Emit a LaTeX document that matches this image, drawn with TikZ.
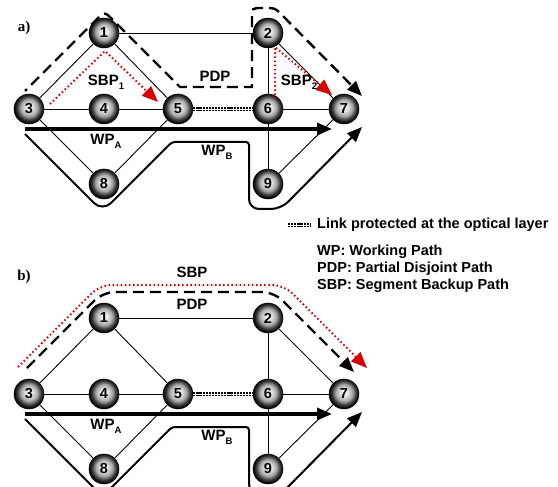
\documentclass[tikz,border=0pt]{standalone}
\usepackage{fontspec}
\setmainfont{Liberation Sans}
\newfontfamily\serifbold{Liberation Serif}
\usetikzlibrary{arrows.meta}
\definecolor{sbpred}{RGB}{215,0,0}
\pgfdeclareradialshading{netball}{\pgfpoint{0bp}{3bp}}{color(0bp)=(white); color(6bp)=(gray!20); color(14bp)=(gray!70); color(20bp)=(gray!45!black); color(25bp)=(black); color(50bp)=(black)}
\newcommand\lsub[1]{\raisebox{-4pt}{\fontsize{9.5}{9.5}\selectfont #1}}
\tikzset{
  nd/.style={circle, draw=black, line width=0.5pt, minimum size=30pt, inner sep=0pt, shading=netball, font=\fontsize{14.5}{14.5}\selectfont\bfseries},
  lnk/.style={line width=0.9pt},
  plink/.style={line width=4.8pt, dash pattern=on 2.2pt off 0.9pt},
  plinkc/.style={white, line width=0.9pt},
  wpa/.style={line width=3.2pt, -{Triangle[length=15pt,width=12pt]}},
  wpb/.style={line width=2pt, -{Triangle[length=15pt,width=12pt]}},
  pdp/.style={line width=2.4pt, dash pattern=on 11pt off 6pt, -{Triangle[length=15pt,width=12pt]}},
  sbp/.style={sbpred, line width=2pt, dash pattern=on 1.5pt off 2.6pt, -{Triangle[length=16pt,width=13pt]}},
  lbl/.style={font=\fontsize{15}{15}\selectfont\bfseries, inner sep=0pt},
  leg/.style={font=\fontsize{14.5}{15}\selectfont\bfseries, inner sep=0pt, anchor=west},
  tag/.style={font=\fontsize{15}{15}\selectfont\serifbold\bfseries, inner sep=0pt}
}
\begin{document}
\begin{tikzpicture}[x=1pt,y=-1pt]
\useasboundingbox[fill=white] (0,0) rectangle (558,487);
\foreach \p/\dy in {a/0,b/285}{
\begin{scope}[shift={(0,\dy)}]
  \node[nd] (\p1) at (104,33) {1};
  \node[nd] (\p2) at (268,33) {2};
  \node[nd] (\p3) at (29,109) {3};
  \node[nd] (\p4) at (104,109) {4};
  \node[nd] (\p5) at (178,109) {5};
  \node[nd] (\p6) at (268,109) {6};
  \node[nd] (\p7) at (344,109) {7};
  \node[nd] (\p8) at (104,184) {8};
  \node[nd] (\p9) at (268,184) {9};
  \draw[lnk] (\p1) -- (\p2);
  \draw[lnk] (\p1) -- (\p3);
  \draw[lnk] (\p1) -- (\p5);
  \draw[lnk] (\p3) -- (\p4);
  \draw[lnk] (\p4) -- (\p5);
  \draw[lnk] (\p3) -- (\p8);
  \draw[lnk] (\p8) -- (\p5);
  \draw[lnk] (\p2) -- (\p6);
  \draw[lnk] (\p2) -- (\p7);
  \draw[lnk] (\p6) -- (\p7);
  \draw[lnk] (\p6) -- (\p9);
  \draw[lnk] (\p9) -- (\p7);
  \draw[plink] (\p5) -- (\p6);
  \draw[plinkc] (\p5) -- (\p6);
  \coordinate (\p-was) at (25,129);
  \coordinate (\p-wae) at (332,129);
  \draw[wpa] (\p-was) -- (\p-wae);
  \coordinate (\p-wbs) at (25,134);
  \coordinate (\p-wbe) at (362,127);
  \draw[wpb] (\p-wbs) [rounded corners=12pt] -- (102.5,211.5) [rounded corners=3pt] -- (172,142) -- (249,142) [rounded corners=10pt] -- (249,209) -- (281,209) -- (\p-wbe);
  \node[lbl] (\p-lwa) at (106,141) {WP\lsub{A}};
  \node[lbl] (\p-lwb) at (217,152) {WP\lsub{B}};
\end{scope}
}
% ---- part a specific
\node[tag] (taga) at (24,28) {a)};
\coordinate (pdpas) at (25,91);
\coordinate (pdpae) at (362,96);
\draw[pdp, dash phase=8.3pt] (pdpas) -- (96,20) .. controls (104.5,11.5) .. (113,20) -- (180,87) -- (252,87) -- (252,18) .. controls (252,8) .. (262,8) -- (266,8) .. controls (275,8) .. (282,15) -- (pdpae);
\node[lbl] (pdpal) at (215,76) {PDP};
\coordinate (s1s) at (50,104);
\coordinate (s1e) at (158,102);
\draw[sbp] (s1s) -- (105,51) -- (s1e);
\node[lbl] (s1l) at (106,82) {SBP\lsub{1}};
\coordinate (s2s) at (275,99);
\coordinate (s2e) at (332,95);
\draw[sbp] (s2s) -- (275,47) -- (s2e);
\node[lbl] (s2l) at (299,82) {SBP\lsub{2}};
% ---- legend
\coordinate (lgs) at (288,225);
\coordinate (lge) at (310,225);
\draw[plink] (lgs) -- (lge);
\draw[plinkc] (lgs) -- (lge);
\node[leg] (lg1) at (317,225) {Link protected at the optical layer};
\node[leg] (lg2) at (317,252) {WP: Working Path};
\node[leg] (lg3) at (317,269) {PDP: Partial Disjoint Path};
\node[leg] (lg4) at (317,286) {SBP: Segment Backup Path};
% ---- part b specific
\node[tag] (tagb) at (24,277) {b)};
\coordinate (sbs) at (18,367);
\coordinate (sbe) at (367,368);
\draw[sbp, rounded corners=12pt] (sbs) -- (100,285) -- (284,285) -- (sbe);
\node[lbl] (sbl) at (192,272) {SBP};
\coordinate (pbs) at (27,368);
\coordinate (pbe) at (354,372);
\draw[pdp, rounded corners=12pt] (pbs) -- (103,292) -- (274,292) -- (pbe);
\node[lbl] (pbl) at (192,304) {PDP};
\end{tikzpicture}
\end{document}
